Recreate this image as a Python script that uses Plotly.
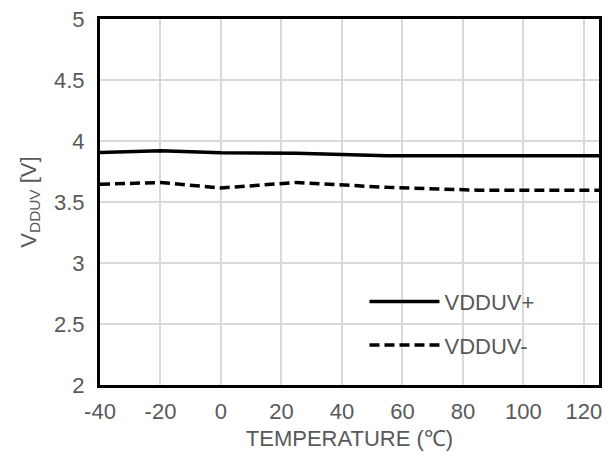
import plotly.graph_objects as go

temperature = [-40, -20, 0, 25, 55, 85, 105, 125]
vdduv_plus = [3.905, 3.92, 3.903, 3.90, 3.88, 3.88, 3.88, 3.88]
vdduv_minus = [3.645, 3.66, 3.615, 3.66, 3.62, 3.597, 3.597, 3.597]
x_ticks = [-40, -20, 0, 20, 40, 60, 80, 100, 120]
x_tick_labels = ["-40", "-20", "0", "20", "40", "60", "80", "100", "120"]
y_ticks = [2, 2.5, 3, 3.5, 4, 4.5, 5]
y_tick_labels = ["2", "2.5", "3", "3.5", "4", "4.5", "5"]

FONT = "Liberation Sans, Arial, sans-serif"
GRAY = "#595959"
FS = 22

fig = go.Figure()
fig.add_trace(go.Scatter(x=temperature, y=vdduv_plus, mode="lines", name="VDDUV+",
                         legendgroup="a",
                         line=dict(color="black", width=3.5)))
fig.add_trace(go.Scatter(x=temperature, y=vdduv_minus, mode="lines", name="VDDUV-",
                         legendgroup="b",
                         line=dict(color="black", width=3.5, dash="10px,5px")))

fig.update_layout(
    width=609, height=463,
    margin=dict(l=100, r=7, t=16, b=78),
    paper_bgcolor="white", plot_bgcolor="white",
    font=dict(family=FONT, size=FS, color=GRAY),
    showlegend=True,
    legend=dict(x=0.53, y=0.285, xanchor="left", yanchor="top",
                bgcolor="rgba(0,0,0,0)", itemwidth=70,
                tracegroupgap=12, font=dict(size=FS, color=GRAY)),
    xaxis=dict(range=[-40, 125], tickvals=x_ticks, ticktext=x_tick_labels,
               showgrid=True, gridcolor="#d9d9d9", gridwidth=2, zeroline=False,
               showline=True, linecolor="black", linewidth=3, mirror=True,
               ticks="", ticklabelstandoff=5, tickfont=dict(size=FS, color=GRAY),
               title=dict(text="TEMPERATURE (℃)", font=dict(size=FS, color=GRAY), standoff=8)),
    yaxis=dict(range=[2, 5], tickvals=y_ticks, ticktext=y_tick_labels,
               showgrid=True, gridcolor="#d9d9d9", gridwidth=2, zeroline=False,
               showline=True, linecolor="black", linewidth=3, mirror=True,
               ticks="", ticklabelstandoff=8, tickfont=dict(size=FS, color=GRAY),
               title=dict(text="V<sub>DDUV</sub> [V]", font=dict(size=FS, color=GRAY), standoff=12)),
)

fig.write_html("out.html")
